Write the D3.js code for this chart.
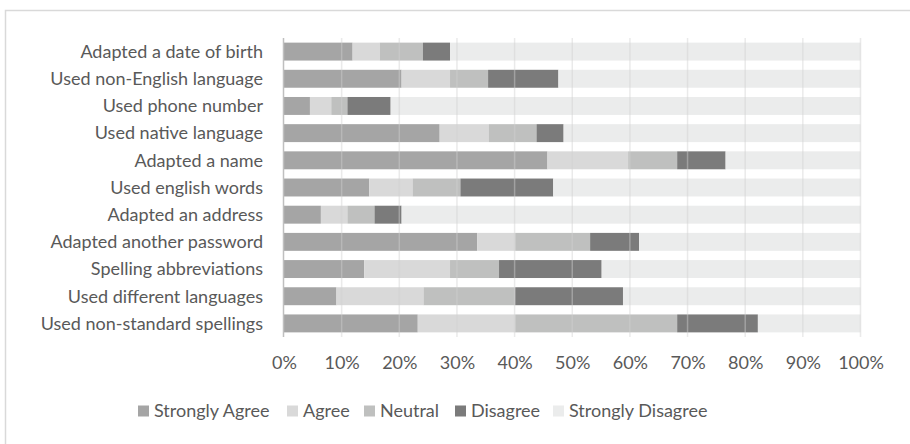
<!DOCTYPE html>
<html>
<head>
<meta charset="utf-8">
<script src="https://cdn.jsdelivr.net/npm/d3@7"></script>
<style>
  body { margin: 0; background: #fff; }
  text { font-family: Lato, sans-serif; fill: #595959; }
</style>
</head>
<body>
<svg id="chart" width="910" height="444"></svg>
<script>
// row labels, top to bottom
const items = [
  'Adapted a date of birth',
  'Used non-English language',
  'Used phone number',
  'Used native language',
  'Adapted a name',
  'Used english words',
  'Adapted an address',
  'Adapted another password',
  'Spelling abbreviations',
  'Used different languages',
  'Used non-standard spellings'
];

const answers = ['Strongly Agree', 'Agree', 'Neutral', 'Disagree', 'Strongly Disagree'];

// percentages
const stronglyAgree    = [11.9, 20.4, 4.5, 27.0, 45.7, 14.8, 6.4, 33.5, 13.9, 9.1, 23.2];
const agree            = [4.7, 8.4, 3.7, 8.5, 14.0, 7.5, 4.6, 6.6, 14.9, 15.1, 16.9];
const neutral          = [7.5, 6.6, 2.8, 8.3, 8.5, 8.3, 4.7, 13.0, 8.5, 15.9, 28.1];
const disagree         = [4.7, 12.2, 7.5, 4.7, 8.4, 16.1, 4.7, 8.5, 17.8, 18.7, 14.0];
const stronglyDisagree = [71.2, 52.4, 81.5, 51.5, 23.4, 53.3, 79.6, 38.4, 44.9, 41.2, 17.8];

const xTicks = [0, 10, 20, 30, 40, 50, 60, 70, 80, 90, 100];

const colors = ['#a5a5a5', '#d9d9d9', '#bfc0bf', '#7b7b7b', '#ebecec'];

const series = [stronglyAgree, agree, neutral, disagree, stronglyDisagree];
const rows = items.map((name, i) => {
  const r = { name };
  answers.forEach((a, j) => { r[a] = series[j][i]; });
  return r;
});

const svg = d3.select('#chart');
const fontSize = 18;

// outer chart border
svg.append('rect')
  .attr('x', 5.5).attr('y', 10.5)
  .attr('width', 920).attr('height', 450)
  .attr('fill', 'none')
  .attr('stroke', '#d9d9d9')
  .attr('stroke-width', 1.5);

const x = d3.scaleLinear().domain([0, 100]).range([284, 860.5]);
const y = d3.scaleBand().domain(items).range([38, 337]).paddingInner(0.34).paddingOuter(0.17);

const stack = d3.stack().keys(answers)(rows);

svg.append('g')
  .selectAll('g.layer')
  .data(stack)
  .join('g')
  .attr('class', 'layer')
  .attr('fill', (d, i) => colors[i])
  .selectAll('rect')
  .data(d => d)
  .join('rect')
  .attr('x', d => x(d[0]))
  .attr('width', d => x(d[1]) - x(d[0]))
  .attr('y', d => y(d.data.name))
  .attr('height', y.bandwidth());

// gridlines drawn faintly over the bars
svg.append('g')
  .selectAll('line')
  .data(xTicks.slice(1))
  .join('line')
  .attr('x1', d => x(d)).attr('x2', d => x(d))
  .attr('y1', 38).attr('y2', 337)
  .attr('stroke', '#d0d0d0')
  .attr('stroke-opacity', 0.45)
  .attr('stroke-width', 1.5);

// left axis line
svg.append('line')
  .attr('x1', x(0) - 0.5).attr('x2', x(0) - 0.5)
  .attr('y1', 38).attr('y2', 337)
  .attr('stroke', '#bfbfbf')
  .attr('stroke-width', 1.5);

// category labels
svg.append('g')
  .selectAll('text')
  .data(items)
  .join('text')
  .attr('x', 263)
  .attr('y', d => y(d) + y.bandwidth() / 2)
  .attr('dy', '0.35em')
  .attr('text-anchor', 'end')
  .attr('font-size', fontSize)
  .text(d => d);

// x tick labels
const xAxis = svg.append('g')
  .attr('transform', 'translate(0,340)')
  .call(d3.axisBottom(x).tickValues(xTicks).tickFormat(d => d + '%').tickSize(0).tickPadding(16));
xAxis.select('.domain').remove();
xAxis.selectAll('text')
  .attr('font-size', fontSize)
  .attr('font-family', 'Lato, sans-serif')
  .attr('fill', '#595959');

// legend
const legendX = [138, 287, 364, 455, 553];
const legend = svg.append('g')
  .selectAll('g')
  .data(answers)
  .join('g')
  .attr('transform', (d, i) => `translate(${legendX[i]},411)`);
legend.append('rect')
  .attr('y', -5.5).attr('width', 11).attr('height', 11)
  .attr('fill', (d, i) => colors[i]);
legend.append('text')
  .attr('x', 16)
  .attr('dy', '0.35em')
  .attr('font-size', fontSize)
  .text(d => d);
</script>
</body>
</html>
